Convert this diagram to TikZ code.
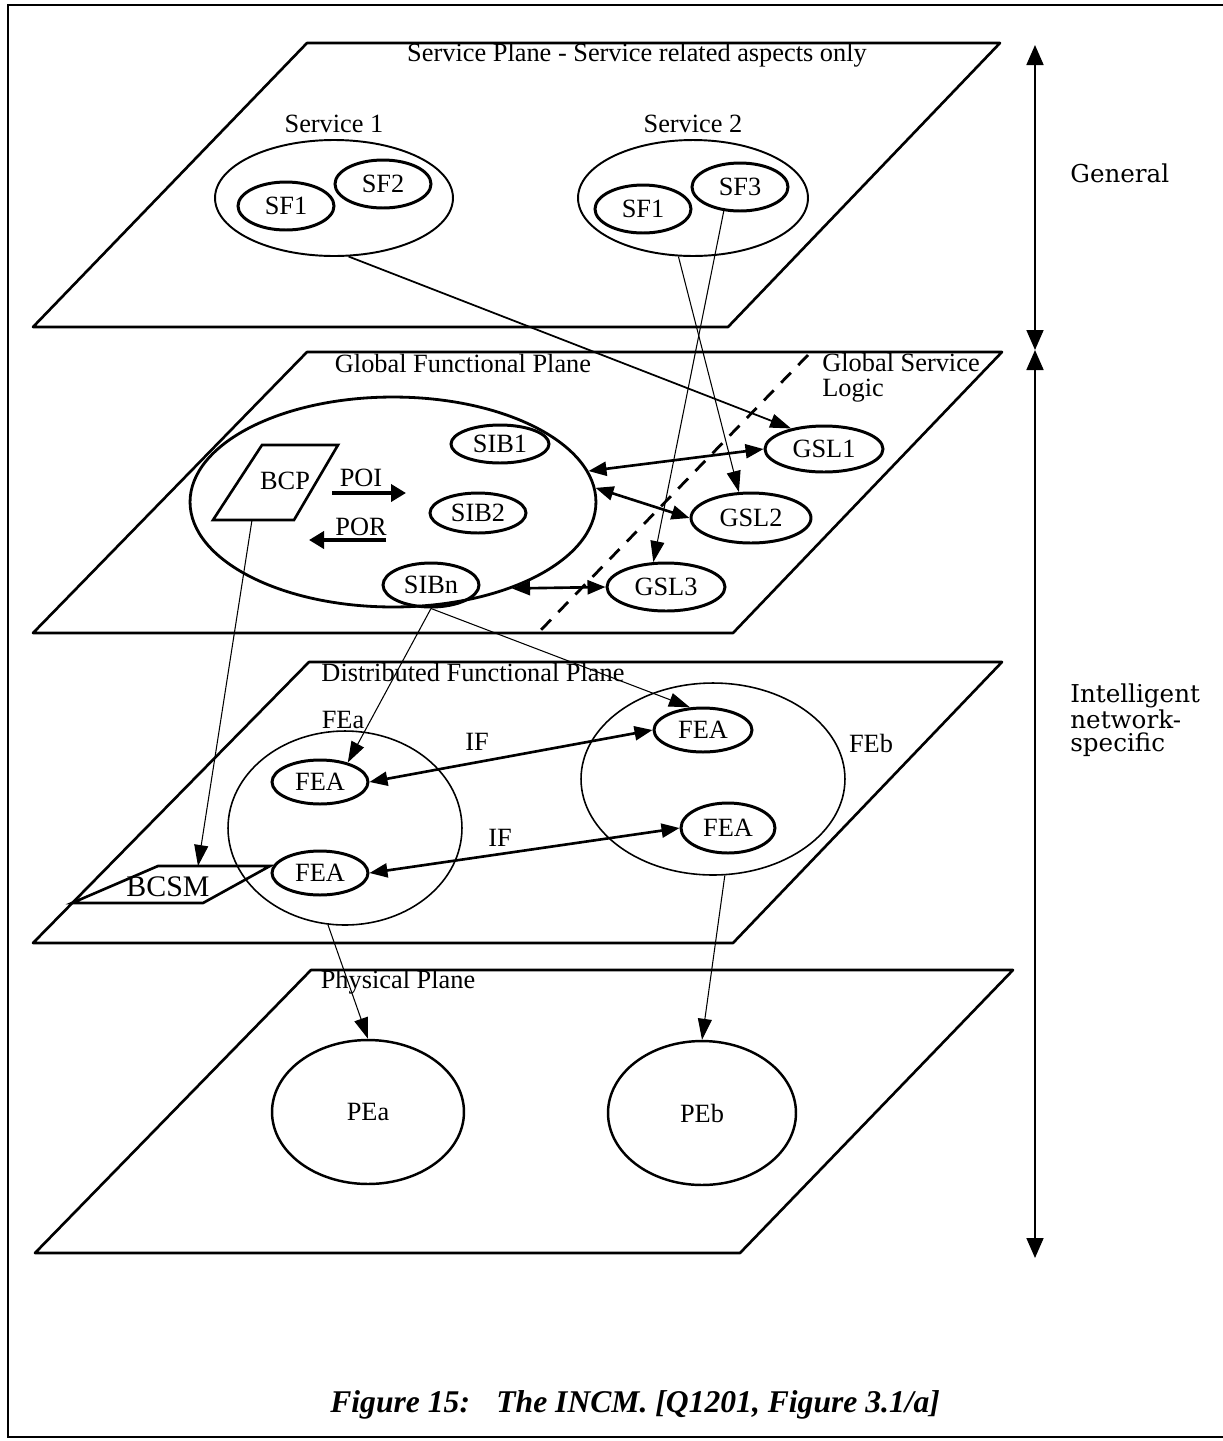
\documentclass[tikz,border=0pt]{standalone}
\usepackage{fontspec}
\setmainfont{Liberation Serif}
\newfontfamily\sidefont{DejaVu Serif}
\usetikzlibrary{arrows.meta,shapes.geometric,positioning}

\begin{document}
\begin{tikzpicture}[x=0.02cm,y=-0.02cm,>={Triangle[length=4.2mm,width=2.8mm]},
  plane/.style={line width=1.5pt,line join=round},
  txt/.style={inner sep=0pt,font=\fontsize{15}{17}\selectfont},
  grp/.style={draw,ellipse,inner sep=0pt,line width=1.1pt},
  blob/.style={draw,ellipse,inner sep=0pt,line width=1.7pt,font=\fontsize{15}{17}\selectfont},
  wire/.style={->,line width=0.6pt},
  iface/.style={<->,line width=1.5pt,>={Triangle[length=3.6mm,width=2.8mm]}},
  fat/.style={->,line width=2.4pt,>={Triangle[length=3mm,width=3.4mm]}}]
\useasboundingbox (0,0) rectangle (1223,1441);
% frame
\draw[line width=1.4pt] (1223,5) -- (8,5) -- (8,1437) -- (1223,1437);

% service plane
\draw[plane] (307,43) -- (1000,43) -- (728,327) -- (33,327) -- cycle;
\node[txt] (sptitle) at (637,55) {Service Plane - Service related aspects only};
\node[grp,minimum width=4.76cm,minimum height=2.32cm] (svc1) at (334,198) {};
\node[grp,minimum width=4.6cm,minimum height=2.32cm] (svc2) at (693,198) {};
\node[txt,above=1.2mm of svc1] (svc1lbl) {Service 1};
\node[txt,above=1.2mm of svc2] (svc2lbl) {Service 2};
\node[blob,minimum width=1.92cm,minimum height=0.96cm] (sf1a) at (286,206) {SF1};
\node[blob,minimum width=1.92cm,minimum height=0.96cm] (sf2) at (383,184) {SF2};
\node[blob,minimum width=1.92cm,minimum height=0.96cm] (sf1b) at (643,209) {SF1};
\node[blob,minimum width=1.92cm,minimum height=0.96cm] (sf3) at (740,187) {SF3};

% global functional plane
\draw[plane] (307,352) -- (1002,352) -- (733,633) -- (33,633) -- cycle;
\node[txt] (gftitle) at (463,363) {Global Functional Plane};
\node[txt,anchor=north west,align=left] (gsltitle) at (822,353) {Global Service\\[-3pt]Logic};
\draw[line width=1.6pt,dash pattern=on 8pt off 6pt] (808,355) -- (538,633);
\node[draw,ellipse,line width=1.6pt,minimum width=8.12cm,minimum height=4.2cm] (bigE) at (393,502) {};
\draw[line width=1.5pt] (262,445) -- (338,445) -- (294,520) -- (213,520) -- cycle;
\coordinate (bcpfoot) at (252,520);
\node[txt] (bcp) at (285,481) {BCP};
\node[txt] (poi) at (361,478) {POI};
\draw[fat] (332,493) -- (406,493);
\node[txt] (por) at (361,527) {POR};
\draw[fat] (386,540) -- (309,540);
\node[blob,minimum width=1.96cm,minimum height=0.76cm] (sib1) at (500,444) {SIB1};
\node[blob,minimum width=1.92cm,minimum height=0.8cm] (sib2) at (478,513) {SIB2};
\node[blob,minimum width=1.92cm,minimum height=0.88cm] (sibn) at (431,585) {SIBn};
\node[blob,minimum width=2.36cm,minimum height=0.92cm] (gsl1) at (824,449) {GSL1};
\node[blob,minimum width=2.4cm,minimum height=1cm] (gsl2) at (751,518) {GSL2};
\node[blob,minimum width=2.36cm,minimum height=0.96cm] (gsl3) at (666,587) {GSL3};

% distributed functional plane
\draw[plane] (309,662) -- (1002,662) -- (733,943) -- (33,943) -- cycle;
\node[txt] (dftitle) at (473,672) {Distributed Functional Plane};
\node[draw,ellipse,line width=0.9pt,minimum width=4.68cm,minimum height=3.88cm] (fea) at (345,828) {};
\node[draw,ellipse,line width=0.9pt,minimum width=5.28cm,minimum height=3.84cm] (feb) at (713,779) {};
\node[txt] (fealbl) at (343,720) {FEa};
\node[txt] (feblbl) at (871,743) {FEb};
\node[blob,minimum width=1.92cm,minimum height=0.88cm] (feaTop) at (320,782) {FEA};
\node[blob,minimum width=1.92cm,minimum height=0.88cm] (feaBot) at (320,873) {FEA};
\node[blob,minimum width=1.96cm,minimum height=0.88cm] (febTop) at (703,730) {FEA};
\node[blob,minimum width=1.88cm,minimum height=1cm] (febBot) at (728,828) {FEA};
\node[txt] (if1) at (477,742) {IF};
\node[txt] (if2) at (500,838) {IF};
\draw[line width=1.5pt] (158,866) -- (270,866) -- (203,903) -- (72,903) -- cycle;
\coordinate (bcsmtop) at (198,866);
\node[inner sep=0pt,font=\fontsize{17}{19}\selectfont] (bcsm) at (168,887) {BCSM};

% physical plane
\draw[plane] (311,970) -- (1013,970) -- (740,1253) -- (35,1253) -- cycle;
\node[txt] (phtitle) at (398,982) {Physical Plane};
\node[draw,ellipse,line width=1.4pt,minimum width=3.84cm,minimum height=2.88cm,font=\fontsize{15}{17}\selectfont] (pea) at (368,1112) {PEa};
\node[draw,ellipse,line width=1.4pt,minimum width=3.76cm,minimum height=2.88cm,font=\fontsize{15}{17}\selectfont] (peb) at (702,1113) {PEb};

% connectors between planes
\draw[wire,line width=1pt] (svc1.-76) -- (gsl1.148);
\draw[wire] (svc2.-104) -- (gsl2.115);
\draw[wire] (sf3.-124) -- (gsl3.117);
\draw[iface] (gsl1.west) -- (bigE.9);
\draw[iface] (gsl2.west) -- (bigE.4);
\draw[iface] (gsl3.west) -- (bigE.-36);
\draw[wire] (bcpfoot) -- (bcsmtop);
\draw[wire] (sibn.south) -- (feaTop.35);
\draw[wire] (sibn.south) -- (febTop.120);
\draw[iface] (feaTop.east) -- (febTop.west);
\draw[iface] (feaBot.east) -- (febBot.west);
\draw[wire] (fea.-100) -- (pea.north);
\draw[wire] (feb.-83) -- (peb.north);

% scope arrows on the right
\coordinate (axtop) at (1035,45);
\coordinate (axmid) at (1035,350);
\coordinate (axbot) at (1035,1258);
\draw[<->,line width=1pt,>={Triangle[length=4mm,width=3.4mm]}] (axtop) -- (axmid);
\draw[<->,line width=1pt,>={Triangle[length=4mm,width=3.4mm]}] (axmid) -- (axbot);
\node[anchor=west,inner sep=0pt,font=\sidefont\fontsize{14}{16}\selectfont] (general) at (1070,173) {General};
\node[anchor=west,align=left,inner sep=0pt,font=\sidefont\fontsize{14}{13}\selectfont] (inspec) at (1070,720) {Intelligent\\network-\\specific};

\node[anchor=west,inner sep=0pt,font=\fontsize{18}{20}\selectfont\bfseries\itshape] (caption) at (330,1405) {Figure 15:\hspace{15pt}The INCM. [Q1201, Figure 3.1/a]};
\end{tikzpicture}
\end{document}
